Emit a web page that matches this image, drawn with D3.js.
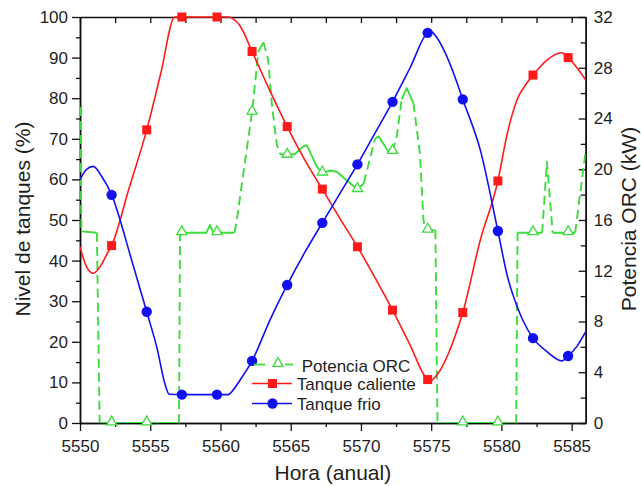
<!DOCTYPE html>
<html><head><meta charset="utf-8">
<script src="https://cdn.jsdelivr.net/npm/d3@7"></script>
<style>
body{margin:0;background:#fff}
svg{display:block}
text{font-family:"Liberation Sans",Arial,sans-serif;fill:#1e1e1e}
</style>
</head><body>
<svg id="c" width="641" height="486"></svg>
<script>
// ---------------- data ----------------
const xTicks = [5550,5555,5560,5565,5570,5575,5580,5585];
const yLeftTicks = [0,10,20,30,40,50,60,70,80,90,100];
const yRightTicks = [0,4,8,12,16,20,24,28,32];
const seriesNames = ["Potencia ORC","Tanque caliente","Tanque frio"];
const xTitle = "Hora (anual)";
const yLeftTitle = "Nivel de tanques (%)";
const yRightTitle = "Potencia ORC (kW)";

const markerHoras = [5552.25,5554.75,5557.25,5559.75,5562.25,5564.75,5567.25,5569.75,5572.25,5574.75,5577.25,5579.75,5582.25,5584.75];
const calienteMarcas = [43.7,72.2,100,100,91.5,73.0,57.6,43.4,27.8,10.7,27.2,59.6,85.7,90.0];
const frioMarcas = [56.2,27.4,7.0,7.0,15.3,34.0,49.3,63.7,79.1,96.1,79.7,47.3,20.9,16.5];
const orcMarcas = [0,0,15.0,15.0,24.5,21.1,19.7,18.4,21.4,15.2,0,0,15.0,15.0];

const tanqueCaliente = [[5550.00,43.4],[5550.45,38.6],[5550.95,36.9],[5551.45,38.6],[5551.90,41.5],[5552.25,43.7],[5553.50,57.9],[5554.75,72.2],[5555.75,86.1],[5556.75,100],[5557.25,100],[5559.75,100],[5560.50,100],[5561.40,97.8],[5562.25,91.5],[5563.50,82.0],[5564.75,73.0],[5566.00,64.8],[5567.25,57.6],[5568.50,50.4],[5569.75,43.4],[5571.00,35.8],[5572.25,27.8],[5573.50,19.2],[5574.75,10.7],[5574.95,10.4],[5575.40,11.8],[5576.60,20.4],[5577.25,27.2],[5578.50,45.1],[5579.75,59.6],[5580.40,71.0],[5581.10,79.5],[5581.80,83.7],[5582.25,85.7],[5583.24,89.4],[5584.30,91.2],[5584.75,90.0],[5586.00,84.5]];

const tanqueFrio = [[5550.00,59.9],[5550.45,62.4],[5550.95,63.2],[5551.55,60.7],[5552.25,56.2],[5553.68,40.1],[5554.75,27.4],[5555.50,18.2],[5556.05,9.6],[5556.35,7.1],[5557.25,7.0],[5559.75,7.0],[5560.55,7.0],[5560.90,8.1],[5561.40,10.6],[5562.25,15.3],[5563.53,25.4],[5564.75,34.0],[5566.00,42.0],[5567.25,49.3],[5568.50,56.5],[5569.75,63.7],[5571.00,71.4],[5572.25,79.1],[5573.50,87.5],[5574.75,96.1],[5575.00,96.4],[5575.35,95.2],[5575.90,91.9],[5576.60,86.1],[5577.25,79.7],[5578.50,67.2],[5579.75,47.3],[5580.45,35.8],[5581.05,29.3],[5581.50,25.5],[5582.25,20.9],[5583.24,17.6],[5584.30,15.3],[5584.75,16.5],[5585.40,19.0],[5586.00,22.5]];

const potenciaORC = [[5550.00,24.9],[5550.10,15.1],[5551.20,15.0],[5551.40,0],[5557.05,0],[5557.12,15.0],[5559.00,15.0],[5559.25,15.6],[5559.50,15.0],[5561.00,15.0],[5561.16,16.0],[5562.25,24.5],[5562.70,29.3],[5563.06,30.0],[5563.40,28.6],[5563.65,25.2],[5564.00,22.0],[5564.24,21.2],[5564.75,21.1],[5565.30,21.2],[5565.90,21.8],[5566.15,21.9],[5566.86,20.2],[5567.25,19.7],[5567.80,19.9],[5568.28,19.8],[5569.23,18.9],[5569.75,18.4],[5570.20,18.9],[5571.00,22.4],[5571.25,22.6],[5571.96,21.4],[5572.25,21.4],[5572.55,22.6],[5572.90,25.5],[5573.26,26.4],[5573.74,25.2],[5574.20,21.2],[5574.45,16.0],[5574.60,15.2],[5574.75,15.2],[5575.30,15.2],[5575.45,0],[5581.05,0],[5581.15,15.0],[5582.25,15.0],[5582.90,15.0],[5583.24,20.6],[5583.65,15.0],[5584.75,15.0],[5585.25,15.0],[5586.00,21.5]];

// ---------------- layout ----------------
const L = 80, R = 585.7, T = 17, B = 423;
const RED = "#ff1a1a", BLUE = "#1010f0", GREEN = "#3ddc3d";
const svg = d3.select("#c");

const x = d3.scaleLinear().domain([5550,5586]).range([L,R]);
const yL = d3.scaleLinear().domain([0,100]).range([B,T]);
const yR = d3.scaleLinear().domain([0,32]).range([B,T]);

function styleAxis(g){
  g.select(".domain").attr("stroke","#111").attr("stroke-width",1.5);
  g.selectAll(".tick line").attr("stroke","#111").attr("stroke-width",1.3);
  g.selectAll("text").attr("font-size",17).attr("fill","#1e1e1e")
   .attr("font-family","Liberation Sans, Arial, sans-serif");
}
const minorX = d3.range(5552.5,5586,5);
const minorYL = d3.range(5,100,10);
const minorYR = d3.range(2,32,4);

// bottom
svg.append("g").attr("transform",`translate(0,${B})`)
  .call(d3.axisBottom(x).tickValues(minorX).tickSize(4).tickFormat("").tickSizeOuter(0)).call(styleAxis);
svg.append("g").attr("transform",`translate(0,${B})`)
  .call(d3.axisBottom(x).tickValues(xTicks).tickSize(8).tickPadding(9).tickFormat(d3.format("d")).tickSizeOuter(0)).call(styleAxis);
// top
svg.append("g").attr("transform",`translate(0,${T})`)
  .call(d3.axisTop(x).tickValues(xTicks.concat(minorX)).tickSize(-6).tickFormat("").tickSizeOuter(0)).call(styleAxis);
// left
svg.append("g").attr("transform",`translate(${L},0)`)
  .call(d3.axisLeft(yL).tickValues(minorYL).tickSize(4).tickFormat("").tickSizeOuter(0)).call(styleAxis);
svg.append("g").attr("transform",`translate(${L},0)`)
  .call(d3.axisLeft(yL).tickValues(yLeftTicks).tickSize(8).tickPadding(4).tickFormat(d3.format("d")).tickSizeOuter(0)).call(styleAxis);
// right
svg.append("g").attr("transform",`translate(${R},0)`)
  .call(d3.axisRight(yR).tickValues(minorYR).tickSize(-5).tickFormat("").tickSizeOuter(0)).call(styleAxis);
svg.append("g").attr("transform",`translate(${R},0)`)
  .call(d3.axisRight(yR).tickValues(yRightTicks).tickSize(-7).tickPadding(8).tickFormat(d3.format("d")).tickSizeOuter(0)).call(styleAxis);

// titles
svg.append("text").attr("x",(L+R)/2).attr("y",480).attr("text-anchor","middle")
  .attr("font-size",21).text(xTitle);
svg.append("text").attr("transform","translate(30,219) rotate(-90)").attr("text-anchor","middle")
  .attr("font-size",21).text(yLeftTitle);
svg.append("text").attr("transform","translate(636,219) rotate(-90)").attr("text-anchor","middle")
  .attr("font-size",21).text(yRightTitle);

// clip
svg.append("clipPath").attr("id","clip").append("rect").attr("x",L).attr("y",T-6).attr("width",R-L).attr("height",B-T+6);
const plot = svg.append("g").attr("clip-path","url(#clip)");

// ---- green: ORC (per-run dashing: steep runs dashed, flat runs solid)
const gpts = potenciaORC.map(d=>[x(d[0]),yR(d[1])]);
const runs = [];
for(let i=0;i<gpts.length-1;i++){
  const a=gpts[i], b=gpts[i+1];
  const steep = Math.abs(b[1]-a[1]) > 3*Math.abs(b[0]-a[0]);
  if(runs.length && runs[runs.length-1].steep===steep) runs[runs.length-1].pts.push(b);
  else runs.push({steep, pts:[a,b]});
}
const lineG = d3.line();
runs.forEach(r=>{
  plot.append("path").attr("d",lineG(r.pts)).attr("fill","none")
    .attr("stroke",GREEN).attr("stroke-width",1.9)
    .attr("stroke-dasharray", r.steep ? "9,5" : null)
    .attr("stroke-linejoin","round");
});

// ---- red & blue lines
const lineL = d3.line().x(d=>x(d[0])).y(d=>yL(d[1])).curve(d3.curveMonotoneX);
plot.append("path").datum(tanqueCaliente).attr("d",lineL).attr("fill","none")
  .attr("stroke",RED).attr("stroke-width",1.6);
plot.append("path").datum(tanqueFrio).attr("d",lineL).attr("fill","none")
  .attr("stroke",BLUE).attr("stroke-width",1.6);

// ---- markers
const tri = d3.symbol().type(d3.symbolTriangle).size(45);
svg.append("g").selectAll("path").data(markerHoras).join("path")
  .attr("transform",(d,i)=>`translate(${x(d)},${yR(orcMarcas[i])-1})`)
  .attr("d",tri).attr("fill","#fff").attr("stroke",GREEN).attr("stroke-width",1.3);
svg.append("g").selectAll("rect").data(markerHoras).join("rect")
  .attr("x",d=>x(d)-4.5).attr("y",(d,i)=>yL(calienteMarcas[i])-4.5)
  .attr("width",9).attr("height",9).attr("fill",RED);
svg.append("g").selectAll("circle").data(markerHoras).join("circle")
  .attr("cx",d=>x(d)).attr("cy",(d,i)=>yL(frioMarcas[i])).attr("r",5.2).attr("fill",BLUE);

// ---- legend
const lg = svg.append("g");
// ORC
lg.append("line").attr("x1",254).attr("x2",265).attr("y1",364.5).attr("y2",364.5).attr("stroke",GREEN).attr("stroke-width",1.9);
lg.append("line").attr("x1",285).attr("x2",293).attr("y1",364.5).attr("y2",364.5).attr("stroke",GREEN).attr("stroke-width",1.9);
lg.append("path").attr("transform","translate(278,363.5)").attr("d",tri).attr("fill","#fff").attr("stroke",GREEN).attr("stroke-width",1.3);
lg.append("text").attr("x",301.7).attr("y",371.5).attr("font-size",17).text(seriesNames[0]);
// caliente
lg.append("line").attr("x1",252).attr("x2",292).attr("y1",383.5).attr("y2",383.5).attr("stroke",RED).attr("stroke-width",1.6);
lg.append("rect").attr("x",268).attr("y",379).attr("width",9).attr("height",9).attr("fill",RED);
lg.append("text").attr("x",296.7).attr("y",390).attr("font-size",17).text(seriesNames[1]);
// frio
lg.append("line").attr("x1",252).attr("x2",292).attr("y1",403.5).attr("y2",403.5).attr("stroke",BLUE).attr("stroke-width",1.6);
lg.append("circle").attr("cx",272.5).attr("cy",403.5).attr("r",5.2).attr("fill",BLUE);
lg.append("text").attr("x",296.7).attr("y",410).attr("font-size",17).text(seriesNames[2]);
</script>
</body></html>
